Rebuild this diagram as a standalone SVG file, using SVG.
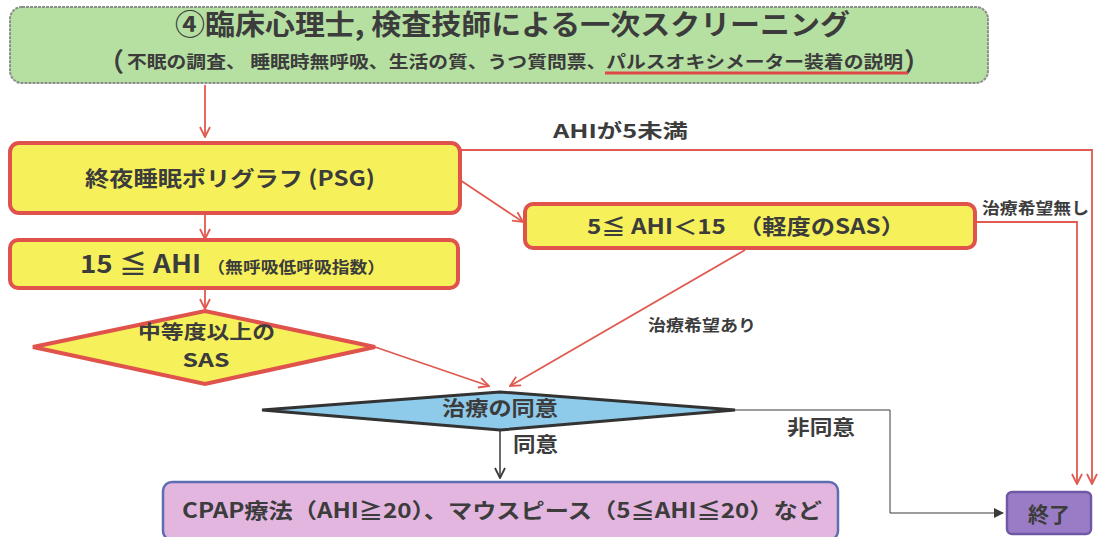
<svg xmlns="http://www.w3.org/2000/svg" width="1098" height="537" viewBox="0 0 1098 537">
<style>
text{font-family:"Noto Sans CJK JP","Noto Sans",sans-serif;font-weight:bold;fill:#3c3c3c}
.yb{fill:#f6f15a;stroke:#e0524c;stroke-width:4}
.red{stroke:#e05a50;fill:none;stroke-width:1.8}
.dk{stroke:#3a3a3a;fill:none;stroke-width:1.5}
</style>
<defs>
<marker id="ar" viewBox="0 0 12 12" refX="11" refY="6" markerWidth="12" markerHeight="12" markerUnits="userSpaceOnUse" orient="auto"><path d="M1,1 L11,6 L1,11" fill="none" stroke="#e05a50" stroke-width="1.8"/></marker>
<marker id="ak" viewBox="0 0 12 12" refX="11" refY="6" markerWidth="12" markerHeight="12" markerUnits="userSpaceOnUse" orient="auto"><path d="M1,1 L11,6 L1,11" fill="none" stroke="#3a3a3a" stroke-width="1.8"/></marker>
<marker id="akf" viewBox="0 0 10 10" refX="9" refY="5" markerWidth="10" markerHeight="10" markerUnits="userSpaceOnUse" orient="auto"><path d="M0,0 L10,5 L0,10 Z" fill="#3a3a3a"/></marker>
</defs>
<rect width="1098" height="537" fill="#ffffff"/>
<g id="connectors">
<line x1="205" y1="85" x2="205" y2="137" class="red" marker-end="url(#ar)"/>
<polyline points="460,150 1092,150 1092,484" class="red" marker-end="url(#ar)"/>
<line x1="460" y1="180" x2="523" y2="222" class="red" marker-end="url(#ar)"/>
<polyline points="975,222 1077,222 1077,484" class="red" marker-end="url(#ar)"/>
<line x1="205" y1="213" x2="205" y2="239" class="red" stroke-width="1.2" marker-end="url(#ar)"/>
<line x1="205" y1="289" x2="205" y2="309" class="red" stroke-width="1.2" marker-end="url(#ar)"/>
<line x1="375" y1="347" x2="489" y2="386" class="red" stroke-width="1.2" marker-end="url(#ar)"/>
<line x1="745" y1="250" x2="510" y2="386" class="red" stroke-width="1.2" marker-end="url(#ar)"/>
<line x1="500" y1="430" x2="500" y2="478" class="dk" marker-end="url(#ak)"/>
<polyline points="735,410 890,410 890,513 1003,513" fill="none" stroke="#3a3a3a" stroke-width="1" marker-end="url(#akf)"/>
<text x="553" y="138" font-size="19" textLength="135" lengthAdjust="spacingAndGlyphs">AHIが5未満</text>
<text x="982" y="214" font-size="16" textLength="107" lengthAdjust="spacingAndGlyphs">治療希望無し</text>
<text x="648" y="331" font-size="16" textLength="108" lengthAdjust="spacingAndGlyphs">治療希望あり</text>
<text x="513" y="452" font-size="20" textLength="45" lengthAdjust="spacingAndGlyphs">同意</text>
<text x="787" y="435" font-size="20" textLength="68" lengthAdjust="spacingAndGlyphs">非同意</text>
</g>
<g id="screening">
<rect x="10" y="7" width="978" height="76" rx="12" fill="#b6e0a2" stroke="#8a8f8a" stroke-width="2" stroke-dasharray="3 1"/>
<text x="175" y="35" font-size="28" textLength="675" lengthAdjust="spacingAndGlyphs">④臨床心理士, 検査技師による一次スクリーニング</text>
<text x="98" y="71" font-size="26">（</text>
<text x="127" y="68" font-size="17.5" textLength="776" lengthAdjust="spacingAndGlyphs">不眠の調査、 睡眠時無呼吸、生活の質、うつ質問票、パルスオキシメーター装着の説明</text>
<text x="904" y="71" font-size="26">）</text>
<line x1="605" y1="73" x2="908" y2="73" stroke="#e04848" stroke-width="3"/>
</g>
<g id="psg">
<rect x="10" y="143" width="450" height="70" rx="9" class="yb"/>
<text x="85" y="186" font-size="21" textLength="290" lengthAdjust="spacingAndGlyphs">終夜睡眠ポリグラフ (PSG)</text>
</g>
<g id="ahi15">
<rect x="10" y="240" width="448" height="48" rx="8" class="yb"/>
<text x="80" y="273" font-size="25" textLength="305" lengthAdjust="spacingAndGlyphs">15 ≦ AHI <tspan font-size="16">（無呼吸低呼吸指数）</tspan></text>
</g>
<g id="ahi5">
<rect x="525" y="204" width="450" height="44" rx="8" class="yb"/>
<text x="587" y="234" font-size="21" textLength="318" lengthAdjust="spacingAndGlyphs">5≦ AHI＜15　（軽度のSAS）</text>
</g>
<g id="moderate">
<polygon points="33,347 205,311 375,347 205,384" class="yb"/>
<text x="138" y="339" font-size="19" textLength="137" lengthAdjust="spacingAndGlyphs">中等度以上の</text>
<text x="206" y="367" font-size="19" text-anchor="middle" textLength="47" lengthAdjust="spacingAndGlyphs">SAS</text>
</g>
<g id="consent">
<polygon points="262,410 500,392 735,410 500,430" fill="#8ecbea" stroke="#333" stroke-width="3"/>
<text x="442" y="416" font-size="20" textLength="116" lengthAdjust="spacingAndGlyphs">治療の同意</text>
</g>
<g id="cpap">
<rect x="163" y="482" width="675" height="58" rx="9" fill="#e3b6df" stroke="#5e6cb0" stroke-width="2.5"/>
<text x="182" y="518" font-size="21" textLength="640" lengthAdjust="spacingAndGlyphs">CPAP療法（AHI≧20）、マウスピース（5≦AHI≦20）など</text>
</g>
<g id="end">
<rect x="1007" y="492" width="84" height="42" rx="5" fill="#9a7cc6" stroke="#6f58a6" stroke-width="2.5"/>
<text x="1028" y="522" font-size="21" textLength="42" lengthAdjust="spacingAndGlyphs">終了</text>
</g>
</svg>
